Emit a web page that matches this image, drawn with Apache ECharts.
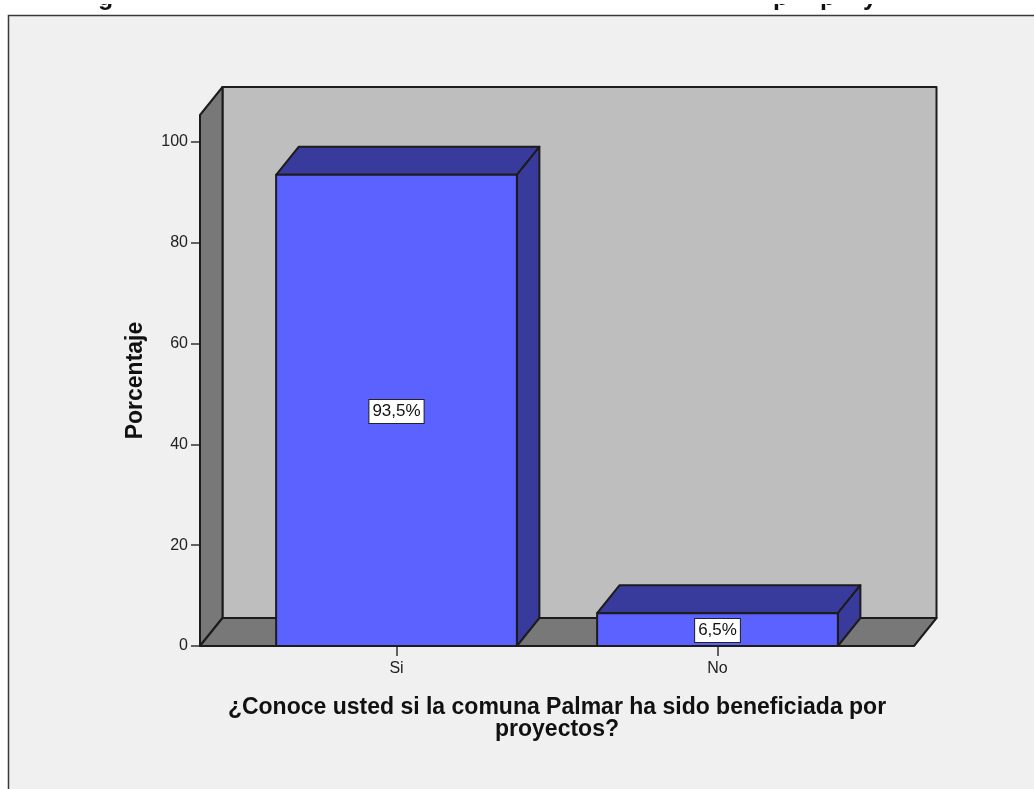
<!DOCTYPE html>
<html>
<head>
<meta charset="utf-8">
<style>html,body{margin:0;padding:0;background:#fff}#c{width:1034px;height:789px}</style>
<script src="https://cdn.jsdelivr.net/npm/echarts@6/dist/echarts.min.js"></script>
</head>
<body>
<div id="c"></div>
<script>
const categories = ['Si', 'No'];
const values = [93.5, 6.5];
const valueLabels = ['93,5%', '6,5%'];
const yTicks = [0, 20, 40, 60, 80, 100];
const axisTop = 105.36;
const yTitle = 'Porcentaje';
const xTitle = '¿Conoce usted si la comuna Palmar ha sido beneficiada por\nproyectos?';
const clippedTitleLetters = [['g', 98], ['p', 773], ['p', 820], ['y', 863]];

const DX = 22.5, DY = -28, SIDE = 36;
const LINE = '#1c1c1c';
const sty = (fill) => ({ fill, stroke: LINE, lineWidth: 2, lineJoin: 'round' });
const poly = (points, fill) => ({ type: 'polygon', shape: { points }, style: sty(fill) });

function renderWalls(params) {
  const c = params.coordSys;
  const x0 = c.x - SIDE, x1 = c.x + c.width + SIDE, y0 = c.y + c.height, y1 = c.y;
  return { type: 'group', children: [
    poly([[x0 + DX, y1 + DY], [x1 + DX, y1 + DY], [x1 + DX, y0 + DY], [x0 + DX, y0 + DY]], '#bebebe'),
    poly([[x0, y0], [x0 + DX, y0 + DY], [x0 + DX, y1 + DY], [x0, y1]], '#787878'),
    poly([[x0, y0], [x1, y0], [x1 + DX, y0 + DY], [x0 + DX, y0 + DY]], '#787878')
  ]};
}

function renderBar(params, api) {
  const i = api.value(0), v = api.value(1);
  const base = api.coord([i, 0]), top = api.coord([i, v]), mid = api.coord([i, v / 2]);
  const w = api.size([1, 0])[0] * 0.75;
  const l = base[0] - w / 2, r = base[0] + w / 2;
  return { type: 'group', children: [
    poly([[l, top[1]], [l + DX, top[1] + DY], [r + DX, top[1] + DY], [r, top[1]]], '#393b9c'),
    poly([[r, top[1]], [r + DX, top[1] + DY], [r + DX, base[1] + DY], [r, base[1]]], '#393b9c'),
    poly([[l, top[1]], [r, top[1]], [r, base[1]], [l, base[1]]], '#5b62ff'),
    { type: 'text', x: mid[0], y: mid[1] + 1, z2: 10, style: {
      text: valueLabels[i], font: '17px "Liberation Sans"', fill: '#111',
      align: 'center', verticalAlign: 'middle',
      backgroundColor: '#fff', borderColor: '#222', borderWidth: 1, padding: [3, 3, 3, 3]
    }}
  ]};
}

const chart = echarts.init(document.getElementById('c'), null, { renderer: 'canvas' });
chart.setOption({
  animation: false,
  backgroundColor: '#fff',
  graphic: { elements: [
    { type: 'rect', z: -10, shape: { x: 8.5, y: 15.5, width: 1100, height: 900 },
      style: { fill: '#f0f0f0', stroke: '#3a3a3a', lineWidth: 1.5 } },
    ...clippedTitleLetters.map(([t, x]) => ({ type: 'text', z: -9, x, y: 11,
      style: { text: t, font: 'bold 25px "Liberation Sans"', fill: '#111', verticalAlign: 'bottom' } })),
    { type: 'rect', z: -8, shape: { x: 0, y: 0, width: 1034, height: 4 }, style: { fill: '#fff' } }
  ]},
  grid: { left: 236, width: 642, top: 115, height: 531, containLabel: false },
  xAxis: {
    type: 'category', data: categories,
    axisLine: { show: false },
    axisTick: { show: true, alignWithLabel: true, length: 10, lineStyle: { color: '#333', width: 1.5 } },
    axisLabel: { margin: 15, fontFamily: 'Liberation Sans', fontSize: 16, color: '#222' },
    name: xTitle, nameLocation: 'middle', nameGap: 51,
    nameTextStyle: { fontFamily: 'Liberation Sans', fontWeight: 'bold', fontSize: 23, lineHeight: 22, color: '#111' }
  },
  yAxis: {
    type: 'value', min: 0, max: axisTop, offset: 36,
    splitLine: { show: false },
    axisLine: { show: false },
    axisTick: { show: true, length: 9, customValues: yTicks, lineStyle: { color: '#333', width: 1.5 } },
    axisLabel: { customValues: yTicks, margin: 12, padding: [4, 0, 0, 0], fontFamily: 'Liberation Sans', fontSize: 16, color: '#222' },
    name: yTitle, nameLocation: 'middle', nameGap: 53, nameRotate: 90,
    nameTextStyle: { fontFamily: 'Liberation Sans', fontWeight: 'bold', fontSize: 23, color: '#111' }
  },
  series: [
    { type: 'custom', silent: true, z: 1, clip: false, renderItem: renderWalls, data: [0], encode: { x: 0 } },
    { type: 'custom', silent: true, z: 2, clip: false, renderItem: renderBar,
      data: values.map((v, i) => [i, v]), encode: { x: 0, y: 1 } }
  ]
});
</script>
</body>
</html>
